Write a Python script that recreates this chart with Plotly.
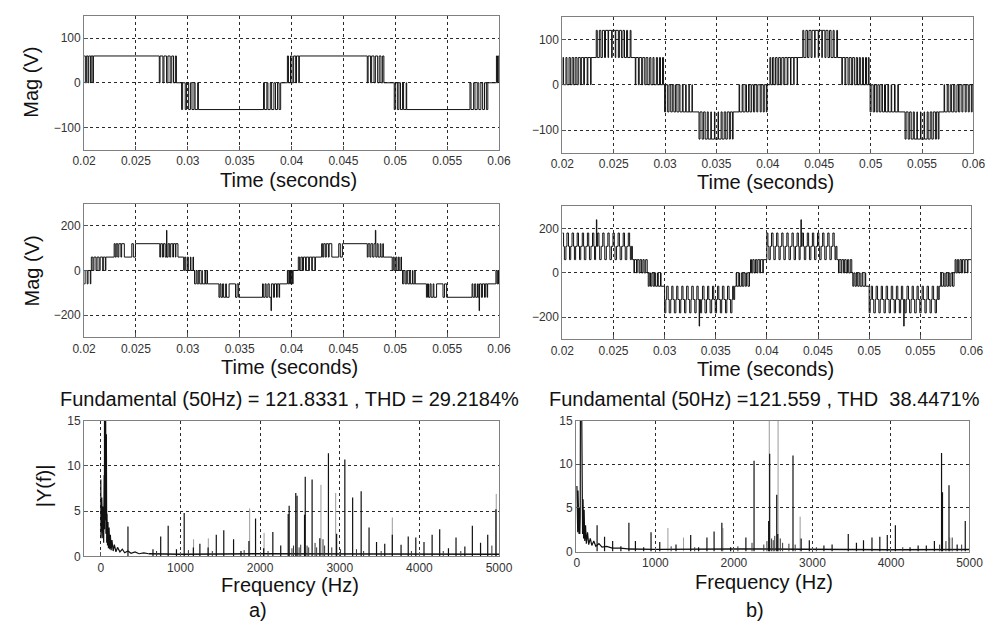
import plotly.graph_objects as go

FONT = "Liberation Sans, Arial, sans-serif"

# ---------------- time-domain data (times in ms, levels in V) ----------------
time_ticks = [20, 25, 30, 35, 40, 45, 50, 55, 60]
time_ticktext = ["0.02", "0.025", "0.03", "0.035", "0.04", "0.045", "0.05", "0.055", "0.06"]

# Top-left waveform: per band, level cycle and switching instants
tl_levels = [[60, 0], [0, 60], [-60, 0], [0, -60], [60, 0], [0, 60], [-60, 0], [0, -60], [60, 0]]
tl_times = [
    [20.0, 20.12, 20.22, 20.38, 20.45, 20.63, 20.68, 20.85, 20.9],
    [27.25, 27.32, 27.6, 27.7, 27.95, 28.08, 28.3, 28.45, 28.62, 28.8, 28.9],
    [29.4, 29.5, 29.75, 29.88, 30.08, 30.25, 30.4, 30.6, 30.7, 30.95, 31.02],
    [37.3, 37.38, 37.62, 37.72, 37.95, 38.08, 38.3, 38.45, 38.65, 38.8, 38.95],
    [39.6, 39.7, 39.9, 40.05, 40.2, 40.4, 40.48, 40.7, 40.75],
    [47.3, 47.38, 47.62, 47.72, 47.95, 48.08, 48.3, 48.45, 48.62, 48.78, 48.9],
    [49.9, 50.0, 50.2, 50.35, 50.5, 50.7, 50.8, 51.05, 51.1],
    [57.2, 57.3, 57.55, 57.68, 57.9, 58.05, 58.25, 58.42, 58.6, 58.78, 58.92],
    [59.75, 59.85, 59.93],
]

# Top-right waveform
tr_levels = [[0, 60], [120, 60], [0, 60], [-60, 0], [-120, -60], [0, -60],
             [60, 0], [120, 60], [0, 60], [-60, 0], [-120, -60], [0, -60]]
tr_times = [
    [20.0, 20.05, 20.12, 20.35, 20.45, 20.65, 20.78, 20.95, 21.1, 21.25, 21.42, 21.55, 21.75, 21.85, 22.08, 22.15, 22.42, 22.48, 22.75, 22.8],
    [23.3, 23.4, 23.6, 23.75, 23.9, 24.1, 24.2, 24.45, 24.5, 24.8, 24.85, 25.15, 25.2, 25.45, 25.55, 25.75, 25.9, 26.05, 26.25, 26.35, 26.6, 26.68],
    [27.1, 27.15, 27.4, 27.48, 27.72, 27.82, 28.02, 28.15, 28.32, 28.5, 28.62, 28.82, 28.92, 29.15, 29.25, 29.45, 29.55, 29.75, 29.85],
    [29.95, 30.05, 30.25, 30.38, 30.55, 30.7, 30.85, 31.02, 31.15, 31.35, 31.45, 31.68, 31.75, 32.0, 32.05, 32.32, 32.35, 32.62, 32.65],
    [33.3, 33.4, 33.6, 33.75, 33.9, 34.1, 34.2, 34.45, 34.5, 34.8, 34.85, 35.15, 35.2, 35.45, 35.55, 35.75, 35.9, 36.05, 36.25, 36.35, 36.55, 36.62],
    [37.2, 37.25, 37.5, 37.58, 37.8, 37.92, 38.12, 38.25, 38.42, 38.6, 38.72, 38.92, 39.02, 39.25, 39.35, 39.55, 39.65, 39.85, 39.92],
    [40.2, 40.28, 40.45, 40.58, 40.75, 40.9, 41.05, 41.22, 41.35, 41.55, 41.65, 41.88, 41.95, 42.2, 42.25, 42.52, 42.55, 42.85, 42.88],
    [43.4, 43.5, 43.7, 43.85, 44.0, 44.2, 44.3, 44.55, 44.6, 44.9, 44.95, 45.25, 45.3, 45.55, 45.65, 45.85, 46.0, 46.15, 46.35, 46.45, 46.7, 46.78],
    [47.2, 47.25, 47.5, 47.58, 47.8, 47.92, 48.12, 48.25, 48.42, 48.6, 48.72, 48.9, 49.0, 49.2, 49.3, 49.5, 49.6, 49.78, 49.85],
    [49.95, 50.05, 50.25, 50.38, 50.55, 50.7, 50.85, 51.02, 51.15, 51.35, 51.45, 51.68, 51.75, 52.0, 52.05, 52.32, 52.38, 52.65, 52.7],
    [53.35, 53.45, 53.65, 53.8, 53.95, 54.15, 54.25, 54.5, 54.55, 54.85, 54.9, 55.2, 55.25, 55.5, 55.6, 55.8, 55.95, 56.1, 56.3, 56.4, 56.58, 56.65],
    [57.15, 57.2, 57.45, 57.55, 57.75, 57.88, 58.08, 58.2, 58.4, 58.55, 58.68, 58.88, 58.98, 59.2, 59.3, 59.5, 59.6, 59.8, 59.88],
]

# Middle-left waveform (bands with explicit level lists include the spikes)
ml_levels = [
    [-60, 0], [60, 0], [120, 60],
    [60, 120, 60, 120, 60, 180, 60, 120, 60, 120, 60, 120, 60, 120, 60],
    [0, 60], [-60, 0], [-120, -60],
    [-60, -120, -60, -120, -60, -120, -180, -60, -120, -60, -120, -60, -120, -60],
    [0, -60], [60, 0], [120, 60],
    [60, 120, 60, 120, 60, 120, 180, 60, 120, 60, 120, 60, 120, 60],
    [0, 60], [-60, 0], [-120, -60],
    [-60, -120, -60, -120, -60, -120, -180, -60, -120, -60, -120, -60, -120, -60],
    [0, -60],
]
ml_times = [
    [20.0, 20.1, 20.3, 20.38, 20.6, 20.65],
    [20.7, 20.85, 20.95, 21.15, 21.25, 21.45, 21.55, 21.8, 21.85, 22.05, 22.1],
    [22.9, 23.0, 23.1, 23.25, 23.35, 23.55, 23.62, 23.88, 24.6, 24.75, 24.95],
    [27.3, 27.38, 27.55, 27.65, 27.82, 27.95, 27.98, 28.1, 28.25, 28.35, 28.55, 28.62, 28.8, 28.85, 29.05],
    [29.6, 29.7, 29.8, 29.95, 30.05, 30.25, 30.3, 30.5, 30.55],
    [30.65, 30.8, 30.9, 31.05, 31.15, 31.35, 31.4, 31.65, 31.7, 31.85, 31.9],
    [33.0, 33.1, 33.2, 33.35, 33.45, 33.65, 33.72, 33.98, 34.6, 34.75, 34.9],
    [37.2, 37.28, 37.45, 37.55, 37.72, 37.85, 38.02, 38.06, 38.25, 38.35, 38.55, 38.62, 38.8, 38.85],
    [39.6, 39.68, 39.8, 39.9, 39.98, 40.1, 40.15],
    [40.65, 40.78, 40.9, 41.05, 41.15, 41.35, 41.42, 41.65, 41.72, 41.95, 42.0, 42.25, 42.3],
    [42.9, 43.0, 43.1, 43.25, 43.35, 43.55, 43.62, 43.88, 44.55, 44.7, 44.9],
    [47.3, 47.38, 47.55, 47.65, 47.82, 47.95, 48.08, 48.12, 48.25, 48.35, 48.55, 48.62, 48.8, 48.85],
    [49.7, 49.8, 49.9, 50.05, 50.15, 50.3, 50.38, 50.55, 50.6],
    [50.7, 50.82, 50.95, 51.1, 51.2, 51.38, 51.45, 51.65, 51.7, 51.88, 51.92],
    [53.0, 53.1, 53.2, 53.35, 53.45, 53.65, 53.72, 53.98, 54.6, 54.75, 54.95],
    [57.4, 57.48, 57.65, 57.75, 57.92, 58.0, 58.08, 58.12, 58.3, 58.4, 58.6, 58.68, 58.85, 58.9],
    [59.7, 59.8, 59.88, 59.95],
]

# Middle-right waveform
mr_levels = [
    [180, 120, 60, 120], [240, 120], [180, 120, 60, 120], [60, 0], [-60, 0],
    [-180, -120, -60, -120], [-240, -120], [-180, -120, -60, -120], [-60, 0], [60, 0],
    [180, 120, 60, 120], [240, 120], [180, 120, 60, 120], [60, 0], [-60, 0],
    [-180, -120, -60, -120], [-240, -120], [-180, -120, -60, -120], [-60, 0], [60, 0],
]
mr_times = [
    [20.0, 20.12, 20.2, 20.35, 20.45, 20.6, 20.7, 20.82, 20.95, 21.1, 21.18, 21.3, 21.45, 21.58, 21.68, 21.8, 21.95, 22.08, 22.15, 22.3, 22.45, 22.58, 22.65, 22.8, 22.95, 23.08, 23.15, 23.25],
    [23.33, 23.37],
    [23.45, 23.58, 23.65, 23.8, 23.95, 24.08, 24.15, 24.3, 24.45, 24.58, 24.65, 24.8, 24.95, 25.08, 25.15, 25.3, 25.45, 25.58, 25.65, 25.8, 25.95, 26.08, 26.15, 26.3, 26.45, 26.58, 26.65, 26.75],
    [26.85, 27.0, 27.05, 27.25, 27.32, 27.5, 27.6, 27.75, 27.88, 28.0, 28.15, 28.3],
    [28.4, 28.5, 28.62, 28.75, 28.88, 29.02, 29.12, 29.3, 29.38, 29.6, 29.65],
    [30.0, 30.12, 30.2, 30.35, 30.45, 30.6, 30.7, 30.82, 30.95, 31.1, 31.18, 31.3, 31.45, 31.58, 31.68, 31.8, 31.95, 32.08, 32.15, 32.3, 32.45, 32.58, 32.65, 32.8, 32.95, 33.08, 33.15, 33.28],
    [33.38, 33.42],
    [33.5, 33.62, 33.7, 33.85, 33.95, 34.1, 34.2, 34.32, 34.45, 34.6, 34.68, 34.8, 34.95, 35.08, 35.18, 35.3, 35.45, 35.58, 35.65, 35.8, 35.95, 36.08, 36.15, 36.3, 36.45, 36.58, 36.65, 36.75],
    [36.85, 37.0, 37.05, 37.25, 37.32, 37.5, 37.6, 37.75, 37.88, 38.0, 38.15, 38.3],
    [38.4, 38.5, 38.62, 38.75, 38.88, 39.02, 39.12, 39.3, 39.38, 39.6, 39.65],
    [40.0, 40.1, 40.2, 40.33, 40.45, 40.6, 40.68, 40.82, 40.95, 41.08, 41.18, 41.3, 41.45, 41.58, 41.66, 41.8, 41.95, 42.08, 42.16, 42.3, 42.45, 42.58, 42.66, 42.8, 42.95, 43.08, 43.15, 43.25],
    [43.33, 43.37],
    [43.45, 43.58, 43.66, 43.8, 43.95, 44.08, 44.16, 44.3, 44.45, 44.58, 44.66, 44.8, 44.95, 45.08, 45.16, 45.3, 45.45, 45.58, 45.66, 45.8, 45.95, 46.08, 46.16, 46.3, 46.45, 46.58, 46.66, 46.75],
    [46.85, 47.0, 47.06, 47.25, 47.33, 47.5, 47.6, 47.75, 47.88, 48.0, 48.15, 48.3],
    [48.4, 48.5, 48.62, 48.75, 48.88, 49.02, 49.12, 49.3, 49.38, 49.6, 49.66],
    [50.0, 50.1, 50.2, 50.33, 50.45, 50.6, 50.68, 50.82, 50.95, 51.08, 51.18, 51.3, 51.45, 51.58, 51.66, 51.8, 51.95, 52.08, 52.16, 52.3, 52.45, 52.58, 52.66, 52.8, 52.95, 53.08, 53.15, 53.28],
    [53.38, 53.42],
    [53.5, 53.62, 53.7, 53.85, 53.95, 54.1, 54.2, 54.32, 54.45, 54.6, 54.68, 54.8, 54.95, 55.08, 55.18, 55.3, 55.45, 55.58, 55.66, 55.8, 55.95, 56.08, 56.16, 56.3, 56.45, 56.58, 56.66, 56.75],
    [56.85, 57.0, 57.06, 57.25, 57.33, 57.5, 57.6, 57.75, 57.88, 58.0, 58.15, 58.3],
    [58.4, 58.5, 58.62, 58.75, 58.88, 59.02, 59.12, 59.3, 59.38, 59.6, 59.66],
]

# ---------------- spectra ----------------
freq_ticks = [0, 1000, 2000, 3000, 4000, 5000]

# a) low-frequency content and noise floor
a_low_f = [0, 2, 5, 8, 12, 16, 20, 25, 30, 36, 42, 46, 50, 54, 58, 64, 70, 74, 78, 84, 90, 96, 104,
           112, 120, 130, 140, 155, 170, 190, 210, 240, 270, 300, 340, 380, 430, 480, 540, 600]
a_low_v = [8.5, 2, 7.2, 3, 6.5, 2.5, 6.0, 2.0, 5.5, 1.5, 9, 3, 121, 4, 30, 2.5, 13.5, 1.5, 4.7, 1.2, 3.8,
           0.9, 3.2, 0.8, 2.4, 0.7, 1.8, 0.6, 1.3, 0.5, 1.0, 0.5, 0.8, 0.4, 0.6, 0.35, 0.5, 0.3, 0.4, 0.3]
a_floor_f = [600, 1000, 2000, 3000, 4000, 5000]
a_floor_v = [0.3, 0.25, 0.3, 0.3, 0.25, 0.25]
a_peak_f = [341, 655, 752, 846, 950, 1047, 1162, 1244, 1347, 1450, 1544, 1667, 1760, 1860, 1943, 2045,
            2160, 2259, 2353, 2365, 2448, 2464, 2558, 2567, 2653, 2750, 2858, 2961, 3064, 3162, 3269,
            3368, 3462, 3565, 3660, 3770, 3860, 3955, 4058, 4160, 4255, 4365, 4460, 4571, 4665, 4768,
            4858, 4961]
a_peak_v = [3.3, 0.8, 2.2, 3.4, 0.8, 4.8, 1.0, 1.4, 1.0, 2.4, 2.9, 1.9, 0.6, 1.7, 4.2, 0.9,
            2.7, 1.2, 4.7, 5.6, 7.0, 6.7, 4.6, 8.8, 8.5, 2.0, 11.4, 2.5, 10.7, 6.5, 7.2,
            3.2, 1.6, 1.4, 2.4, 1.3, 2.2, 2.1, 1.6, 2.4, 3.0, 0.9, 2.1, 1.1, 3.4, 1.5,
            2.4, 5.2]
a_small_f = [700, 1100, 1400, 1800, 2100, 2400, 2420, 2490, 2510, 2590, 2610, 2690, 2710, 2790,
             2810, 2900, 3010, 3210, 3300, 3520, 3900, 4300, 4520, 4910]
a_small_v = [0.6, 0.7, 0.6, 0.7, 0.6, 0.9, 1.2, 1.0, 1.3, 1.2, 1.0, 1.5, 1.0, 1.9,
             1.2, 1.0, 0.8, 0.8, 0.6, 0.6, 0.6, 0.6, 0.6, 1.2]
a_gray_f = [1165, 1350, 1869, 2050, 2764, 2949, 3660, 4965]
a_gray_v = [1.9, 2.0, 5.3, 2.6, 7.9, 7.0, 4.3, 6.9]

# b)
b_low_f = [0, 3, 6, 10, 14, 18, 22, 27, 32, 37, 42, 47, 52, 57, 62, 67, 72, 78, 85, 92, 100, 110, 120,
           135, 150, 170, 190, 215, 240, 280, 320, 380, 450, 550, 650]
b_low_v = [7.5, 2.5, 7.2, 2.2, 7.0, 2.5, 6.5, 2.0, 5.0, 2.0, 4.0, 30, 121, 30, 15, 8.7, 2, 6, 1.5, 4.8,
           1.2, 3.0, 0.9, 2.2, 0.8, 1.5, 0.7, 1.2, 0.6, 0.9, 0.5, 0.6, 0.4, 0.4, 0.3]
b_floor_f = [650, 1000, 2000, 3000, 4000, 5000]
b_floor_v = [0.3, 0.25, 0.3, 0.25, 0.2, 0.25]
b_peak_f = [257, 352, 455, 560, 662, 745, 850, 944, 1055, 1262, 1449, 1550, 1656, 1747, 1846, 1958,
            2152, 2256, 2442, 2455, 2545, 2558, 2752, 2856, 2960, 3146, 3250, 3456, 3560, 3650, 3758,
            3858, 3953, 4056, 4243, 4346, 4450, 4553, 4644, 4656, 4739, 4843, 4946]
b_peak_v = [3.0, 1.7, 1.2, 0.6, 3.3, 1.2, 0.5, 2.2, 1.1, 0.8, 1.9, 0.5, 1.6, 2.3, 3.3, 0.5,
            1.6, 10.4, 3.5, 11.2, 6.5, 2.0, 11.0, 1.5, 1.3, 0.7, 0.8, 2.0, 1.0, 1.3, 1.6,
            1.7, 1.9, 3.0, 0.5, 0.7, 0.7, 1.2, 11.3, 6.8, 7.6, 0.8, 3.5]
b_small_f = [1200, 1500, 2050, 2230, 2380, 2420, 2480, 2500, 2520, 2590, 2620, 2700, 2780, 3050,
             4150, 4620, 4700, 4780, 4900]
b_small_v = [0.6, 0.5, 0.6, 1.0, 0.8, 1.2, 1.5, 1.3, 1.8, 1.5, 1.0, 0.9, 0.8, 0.5,
             0.5, 0.8, 1.2, 1.6, 0.8]
b_gray_f = [1159, 1358, 1860, 2450, 2562, 2843, 4750]
b_gray_v = [2.7, 1.6, 2.7, 16, 16, 4.0, 1.6]

title_a = "Fundamental (50Hz) = 121.8331 , THD = 29.2184%"
title_b = "Fundamental (50Hz) =121.559 , THD  38.4471%"


def steps(levels, times, t_end=60.0):
    xs, ys = [], []
    for lv, ts in zip(levels, times):
        for i, t in enumerate(ts):
            xs.append(t)
            ys.append(lv[i % len(lv)])
    xs.append(t_end)
    ys.append(ys[-1])
    return xs, ys


def stems(f, v):
    xs, ys = [], []
    for a, b in zip(f, v):
        xs += [a, a, None]
        ys += [0, b, None]
    return xs, ys


fig = go.Figure()

LINE = dict(color="#111111", width=1)
for idx, (lv, ts) in enumerate([(tl_levels, tl_times), (tr_levels, tr_times),
                                 (ml_levels, ml_times), (mr_levels, mr_times)], start=1):
    x, y = steps(lv, ts)
    fig.add_trace(go.Scatter(x=x, y=y, mode="lines", line=dict(shape="hv", **LINE),
                             xaxis=f"x{idx}", yaxis=f"y{idx}", hoverinfo="skip"))

for idx, (lf, lvv, ff, fv, pf, pv, sf, sv, gf, gv) in [
    (5, (a_low_f, a_low_v, a_floor_f, a_floor_v, a_peak_f, a_peak_v, a_small_f, a_small_v, a_gray_f, a_gray_v)),
    (6, (b_low_f, b_low_v, b_floor_f, b_floor_v, b_peak_f, b_peak_v, b_small_f, b_small_v, b_gray_f, b_gray_v)),
]:
    gx, gy = stems(gf, gv)
    fig.add_trace(go.Scatter(x=gx, y=gy, mode="lines", line=dict(color="#9a9a9a", width=1),
                             xaxis=f"x{idx}", yaxis=f"y{idx}", hoverinfo="skip"))
    fig.add_trace(go.Scatter(x=lf, y=lvv, mode="lines", line=dict(color="#111111", width=1.2),
                             xaxis=f"x{idx}", yaxis=f"y{idx}", hoverinfo="skip"))
    fig.add_trace(go.Scatter(x=ff, y=fv, mode="lines", line=dict(color="#111111", width=1.5),
                             xaxis=f"x{idx}", yaxis=f"y{idx}", hoverinfo="skip"))
    sx, sy = stems(sf, sv)
    fig.add_trace(go.Scatter(x=sx, y=sy, mode="lines", line=dict(color="#333333", width=1),
                             xaxis=f"x{idx}", yaxis=f"y{idx}", hoverinfo="skip"))
    px_, py_ = stems(pf, pv)
    fig.add_trace(go.Scatter(x=px_, y=py_, mode="lines", line=dict(color="#111111", width=1.2),
                             xaxis=f"x{idx}", yaxis=f"y{idx}", hoverinfo="skip"))

W, H = 1002.0, 627.0


def xd(a, b):
    return [a / W, b / W]


def yd(top, bottom):
    return [1 - bottom / H, 1 - top / H]


axis_common = dict(showline=True, linecolor="#808080", linewidth=1, mirror=True,
                   showgrid=True, gridcolor="#2a2a2a", griddash="dot", gridwidth=1,
                   zeroline=False, ticks="inside", ticklen=4, tickcolor="#555555",
                   tickfont=dict(size=12, color="#333333", family=FONT))

panels = {
    1: dict(x=xd(74, 500), y=yd(9, 146), xr=[20, 60], yr=[-150, 150], yt=[-100, 0, 100], time=True),
    2: dict(x=xd(565, 987), y=yd(10, 149), xr=[20, 60], yr=[-150, 150], yt=[-100, 0, 100], time=True),
    3: dict(x=xd(74, 500), y=yd(201, 338), xr=[20, 60], yr=[-300, 300], yt=[-200, 0, 200], time=True),
    4: dict(x=xd(565, 985), y=yd(204, 340), xr=[20, 60], yr=[-300, 300], yt=[-200, 0, 200], time=True),
    5: dict(x=xd(74, 500), y=yd(423, 562), xr=[-210, 5000], yr=[0, 15], yt=[0, 5, 10, 15], time=False),
    6: dict(x=xd(579, 983), y=yd(423, 557), xr=[-12, 5000], yr=[0, 15], yt=[0, 5, 10, 15], time=False),
}

layout = dict(width=1002, height=627, margin=dict(l=0, r=0, t=0, b=0),
              paper_bgcolor="white", plot_bgcolor="white", showlegend=False,
              font=dict(family=FONT, color="#111111"))
for i, p in panels.items():
    xa = dict(axis_common, domain=p["x"], range=p["xr"], anchor=f"y{i}")
    if p["time"]:
        xa.update(tickmode="array", tickvals=time_ticks, ticktext=time_ticktext)
    else:
        xa.update(tickmode="array", tickvals=freq_ticks)
    ya = dict(axis_common, domain=p["y"], range=p["yr"], anchor=f"x{i}",
              tickmode="array", tickvals=p["yt"])
    layout["xaxis" if i == 1 else f"xaxis{i}"] = xa
    layout["yaxis" if i == 1 else f"yaxis{i}"] = ya

fig.update_layout(**layout)


def ann(text, x, y, size=20, angle=0):
    fig.add_annotation(text=text, x=x / W, y=1 - y / H, xref="paper", yref="paper",
                       showarrow=False, textangle=angle, xanchor="center", yanchor="middle",
                       font=dict(size=size, family=FONT, color="#111111"))


ann("Mag (V)", 20, 77, angle=-90)
ann("Mag (V)", 20, 270, angle=-90)
ann("|Y(f)|", 33, 490, angle=-90)
ann("Time (seconds)", 284, 177)
ann("Time (seconds)", 774, 179)
ann("Time (seconds)", 285, 368)
ann("Time (seconds)", 774, 370)
ann("Frequency (Hz)", 285, 591)
ann("Frequency (Hz)", 772, 588)
ann(title_a, 285, 401)
ann(title_b, 773, 401)
ann("a)", 253, 617)
ann("b)", 763, 617)

fig.write_html("out.html", config={"displayModeBar": False},
               post_script="document.body.style.margin='0';")
